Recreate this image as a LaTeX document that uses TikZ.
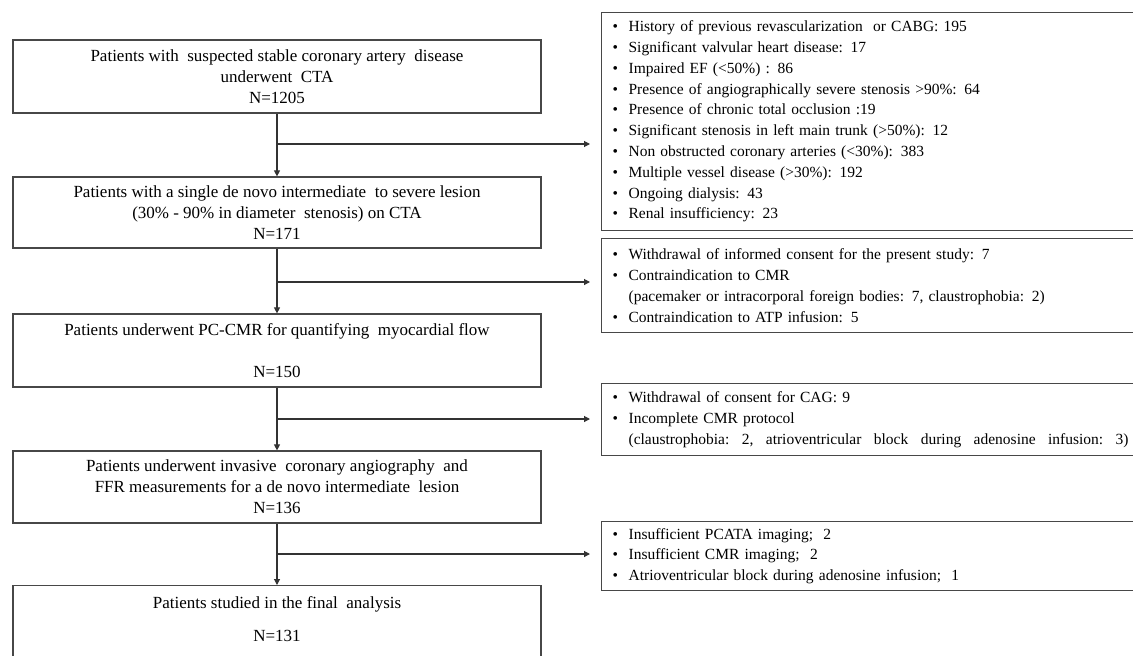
\documentclass[tikz,border=0pt]{standalone}
\usepackage{fontspec}
\setmainfont{Liberation Serif}
\usetikzlibrary{arrows.meta}
\newcommand\bitem[1]{\makebox[16pt][l]{\textbullet}#1}
\begin{document}
\begin{tikzpicture}[x=1pt,y=-1pt,
  txt/.style={font=\fontsize{15.5}{20.8}\selectfont, inner sep=0pt},
  ltxt/.style={font=\fontsize{17}{21}\selectfont, inner sep=0pt},
  box/.style={ltxt, draw=black!72, line width=1.2pt, rectangle, align=center},
  lbox/.style={box, minimum width=528pt},
  rbox/.style={txt, draw=black!72, line width=1.2pt, rectangle, anchor=north west,
    inner xsep=11pt, inner ysep=0pt, text width=523pt, align=left},
  flow/.style={draw=black!80, line width=1.1pt, -{Triangle[length=6pt,width=6pt]}},
  side/.style={flow, shorten >=11pt}]
\useasboundingbox (0,0) rectangle (1133,656);
\fill[white] (0,0) rectangle (1133,656);
\begin{scope}
\clip (0,0) rectangle (1133,656);
% left column
\node[lbox, minimum height=73pt] (b1) at (277,76.5)
  {Patients with\ \ suspected stable coronary artery\ \ disease\\underwent\ \ CTA\\N=1205};
\node[lbox, minimum height=71pt] (b2) at (277,212.5)
  {Patients with a single de novo intermediate\ \ to severe lesion\\(30\% - 90\% in diameter\ \ stenosis) on CTA\\N=171};
\node[lbox, minimum height=73pt] (b3) at (277,350.5)
  {Patients underwent PC-CMR for quantifying\ \ myocardial flow\\\mbox{}\\N=150};
\node[lbox, minimum height=72pt] (b4) at (277,487)
  {Patients underwent invasive\ \ coronary angiography\ \ and\\FFR measurements for a de novo intermediate\ \ lesion\\N=136};
\node[lbox, minimum height=100pt, anchor=north] (b5) at (277,585) {};
\node[ltxt, align=center] (t5) at (277,619.5)
  {Patients studied in the final\ \ analysis\\[12pt]N=131};
% right column
\node[rbox, minimum height=218pt] (r1) at (601,12) {%
  \bitem{History of previous revascularization\ \ or CABG: 195}\\
  \bitem{Significant valvular heart disease: 17}\\
  \bitem{Impaired EF (<50\%) : 86}\\
  \bitem{Presence of angiographically severe stenosis >90\%: 64}\\
  \bitem{Presence of chronic total occlusion :19}\\
  \bitem{Significant stenosis in left main trunk (>50\%): 12}\\
  \bitem{Non obstructed coronary arteries (<30\%): 383}\\
  \bitem{Multiple vessel disease (>30\%): 192}\\
  \bitem{Ongoing dialysis: 43}\\
  \bitem{Renal insufficiency: 23}};
\node[rbox, minimum height=94pt] (r2) at (601,238) {%
  \bitem{Withdrawal of informed consent for the present study: 7}\\
  \bitem{Contraindication to CMR}\\
  \hspace*{16pt}(pacemaker or intracorporal foreign bodies: 7, claustrophobia: 2)\\
  \bitem{Contraindication to ATP infusion: 5}};
\node[rbox, minimum height=72pt] (r3) at (601,383) {%
  \bitem{Withdrawal of consent for CAG: 9}\\
  \bitem{Incomplete CMR protocol}\\
  \hspace*{16pt}\makebox[500pt][l]{(claustrophobia:\hfill 2,\hfill atrioventricular\hfill block\hfill during\hfill adenosine\hfill infusion:\hfill 3)}};
\node[rbox, minimum height=69pt] (r4) at (601,521) {%
  \bitem{Insufficient PCATA imaging;\ \ 2}\\
  \bitem{Insufficient CMR imaging;\ \ 2}\\
  \bitem{Atrioventricular block during adenosine infusion;\ \ 1}};
% connectors
\draw[flow] (b1) -- (b2);
\draw[flow] (b2) -- (b3);
\draw[flow] (b3) -- (b4);
\draw[flow] (b4) -- (b5);
\coordinate (j1) at (277,144);
\coordinate (j2) at (277,282);
\coordinate (j3) at (277,419);
\coordinate (j4) at (277,554);
\draw[side] (j1) -- (r1.west |- j1);
\draw[side] (j2) -- (r2.west |- j2);
\draw[side] (j3) -- (r3.west |- j3);
\draw[side] (j4) -- (r4.west |- j4);
\end{scope}
\end{tikzpicture}
\end{document}
